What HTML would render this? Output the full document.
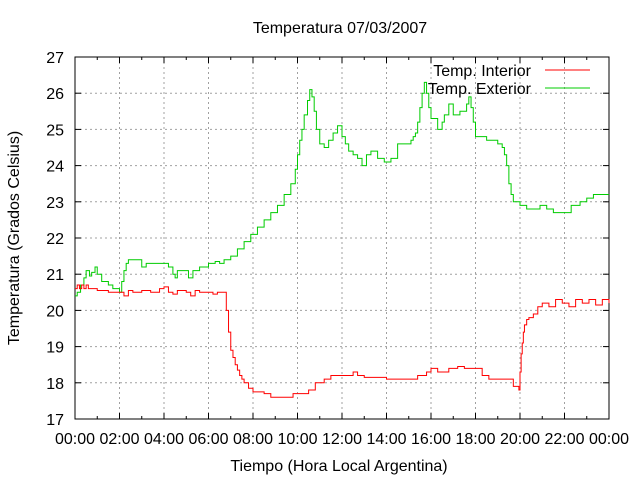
<!DOCTYPE html>
<html><head><meta charset="utf-8"><style>
body{margin:0;background:#fff}
svg text{font-family:"Liberation Sans",sans-serif;fill:#000}
</style></head><body>
<svg id="chart" width="640" height="480" xmlns="http://www.w3.org/2000/svg">
<rect width="640" height="480" fill="#fff"/>
<g id="grid"></g><g id="axes"></g><g id="series"></g>
<text x="340" y="33" font-size="16" text-anchor="middle">Temperatura 07/03/2007</text>
<text x="339" y="471" font-size="16" text-anchor="middle">Tiempo (Hora Local Argentina)</text>
<text transform="translate(19,238) rotate(-90)" font-size="16" text-anchor="middle">Temperatura (Grados Celsius)</text>
<g>
<text x="531" y="76" font-size="16" text-anchor="end">Temp. Interior</text>
<line x1="545" y1="70" x2="590" y2="70" stroke="#f00" stroke-width="1"/>
<text x="531" y="94" font-size="16" text-anchor="end">Temp. Exterior</text>
<line x1="545" y1="88" x2="590" y2="88" stroke="#0c0" stroke-width="1"/>
</g>
</svg>
<script>
const xTickLabels=["00:00","02:00","04:00","06:00","08:00","10:00","12:00","14:00","16:00","18:00","20:00","22:00","00:00"];
const yTickLabels=[17,18,19,20,21,22,23,24,25,26,27];
const extHours=[0,0.1,0.25,0.4,0.5,0.65,0.75,0.9,1.0,1.2,1.5,1.7,2.0,2.1,2.2,2.3,2.4,2.9,3.0,3.2,4.0,4.2,4.4,4.5,4.6,5.0,5.1,5.3,5.6,6.0,6.3,6.5,6.7,7.0,7.3,7.6,7.9,8.2,8.5,8.8,9.1,9.4,9.7,9.9,10.0,10.1,10.2,10.3,10.45,10.55,10.65,10.75,10.85,11.0,11.2,11.4,11.6,11.8,12.0,12.15,12.3,12.5,12.7,12.9,13.1,13.3,13.6,13.9,14.2,14.5,15.0,15.1,15.2,15.3,15.4,15.5,15.6,15.7,15.8,15.9,16.0,16.3,16.5,16.6,16.8,17.0,17.3,17.6,17.7,17.8,17.9,18.0,18.5,19.0,19.2,19.3,19.4,19.5,19.6,19.7,20.0,20.3,20.6,20.9,21.2,21.5,22.0,22.3,22.7,23.0,23.3,24];
const extTemps=[20.4,20.5,20.7,20.9,21.1,20.95,21.05,21.2,21.0,20.8,20.7,20.6,20.5,20.8,21.1,21.3,21.4,21.4,21.2,21.3,21.3,21.2,21.0,20.9,21.1,21.1,20.9,21.1,21.2,21.3,21.35,21.3,21.4,21.5,21.7,21.9,22.1,22.3,22.5,22.7,22.9,23.2,23.5,23.9,24.3,24.7,25.0,25.4,25.8,26.1,25.9,25.5,25.0,24.6,24.5,24.7,24.9,25.1,24.8,24.6,24.4,24.3,24.2,24.0,24.3,24.4,24.2,24.1,24.2,24.6,24.6,24.7,24.8,24.9,25.2,25.6,26.0,26.3,26.0,25.6,25.3,25.0,25.2,25.4,25.7,25.4,25.5,25.7,25.9,25.6,25.2,24.8,24.7,24.6,24.5,24.3,24.0,23.5,23.2,23.0,22.9,22.8,22.8,22.9,22.8,22.7,22.7,22.9,23.0,23.1,23.2,23.2];
const intHours=[0,0.1,0.2,0.3,0.4,0.5,0.6,0.8,1.0,1.5,2.0,2.2,2.4,2.6,3.0,3.4,3.8,4.0,4.2,4.4,4.6,5.0,5.2,5.4,5.6,6.0,6.2,6.4,6.75,6.8,6.9,7.0,7.1,7.2,7.3,7.4,7.5,7.6,7.8,8.0,8.5,8.8,9.8,10.5,10.8,11.2,11.5,12.5,12.7,13.0,14.0,15.2,15.4,15.8,16.0,16.3,16.8,17.2,17.5,18.0,18.3,18.6,19.5,19.7,19.95,20.0,20.05,20.1,20.15,20.2,20.3,20.4,20.6,20.8,21.0,21.3,21.6,21.9,22.2,22.5,22.8,23.1,23.4,23.7,24];
const intTemps=[20.6,20.7,20.6,20.7,20.6,20.7,20.6,20.6,20.55,20.5,20.5,20.4,20.55,20.5,20.55,20.5,20.6,20.65,20.5,20.45,20.55,20.5,20.4,20.55,20.5,20.5,20.45,20.5,20.5,20.0,19.4,18.9,18.7,18.5,18.35,18.2,18.1,18.0,17.85,17.75,17.7,17.6,17.7,17.8,18.0,18.1,18.2,18.3,18.2,18.15,18.1,18.1,18.2,18.3,18.4,18.3,18.4,18.45,18.4,18.4,18.2,18.1,18.1,17.9,17.8,18.3,18.8,19.1,19.4,19.6,19.75,19.8,19.9,20.1,20.2,20.1,20.3,20.2,20.1,20.3,20.2,20.3,20.15,20.3,20.2];
const X0=75,X1=609,Y0=419,Y1=57;
const xs=h=>X0+(X1-X0)*h/24;
const ys=t=>Y0-(Y0-Y1)*(t-17)/10;
const NS="http://www.w3.org/2000/svg";
const grid=document.getElementById('grid'),axes=document.getElementById('axes'),ser=document.getElementById('series');
function mk(tag,attrs,parent){const e=document.createElementNS(NS,tag);for(const k in attrs)e.setAttribute(k,attrs[k]);parent.appendChild(e);return e;}
xTickLabels.forEach((lab,i)=>{
 const x=xs(i*2);
 if(i>0&&i<xTickLabels.length-1){const g=mk('line',{x1:x,y1:Y0,x2:x,y2:Y1,stroke:'#a0a0a0','stroke-dasharray':'2,3'},grid);
 
 }
 const t=mk('line',{x1:x,y1:Y0,x2:x,y2:Y0-6,stroke:'#000'},axes);
 
 
 const t2=mk('line',{x1:x,y1:Y1,x2:x,y2:Y1+6,stroke:'#000'},axes);
 
 
 const tx=mk('text',{x:x,y:Y0+25,'font-size':'16','text-anchor':'middle'},axes);tx.textContent=lab;
 
 
});
for(let i=0;i<24;i+=2){const x=xs(i+1);
 const m=mk('line',{x1:x,y1:Y0,x2:x,y2:Y0-3,stroke:'#000'},axes);
 
 
 const m2=mk('line',{x1:x,y1:Y1,x2:x,y2:Y1+3,stroke:'#000'},axes);
 
 }
yTickLabels.forEach((v,i)=>{
 const y=ys(v);
 if(i>0&&i<yTickLabels.length-1){const g=mk('line',{x1:X0,y1:y,x2:X1,y2:y,stroke:'#a0a0a0','stroke-dasharray':'2,3'},grid);
 
 }
 const t=mk('line',{x1:X0,y1:y,x2:X0+6,y2:y,stroke:'#000'},axes);
 
 
 const t2=mk('line',{x1:X1,y1:y,x2:X1-6,y2:y,stroke:'#000'},axes);
 
 
 const tx=mk('text',{x:X0-11,y:y+6,'font-size':'16','text-anchor':'end'},axes);tx.textContent=v;
 
 
});
const fr=mk('rect',{x:X0,y:Y1,width:X1-X0,height:Y0-Y1,fill:'none',stroke:'#000'},axes);


function stepPath(hs,ts){let d='M'+xs(hs[0])+','+ys(ts[0]);for(let i=1;i<hs.length;i++){d+=' H'+xs(hs[i])+' V'+ys(ts[i]);}return d;}
const pe=mk('path',{d:stepPath(extHours,extTemps),fill:'none',stroke:'#0c0','stroke-width':'1'},ser);


const pi=mk('path',{d:stepPath(intHours,intTemps),fill:'none',stroke:'#f00','stroke-width':'1'},ser);


</script>
</body></html>
